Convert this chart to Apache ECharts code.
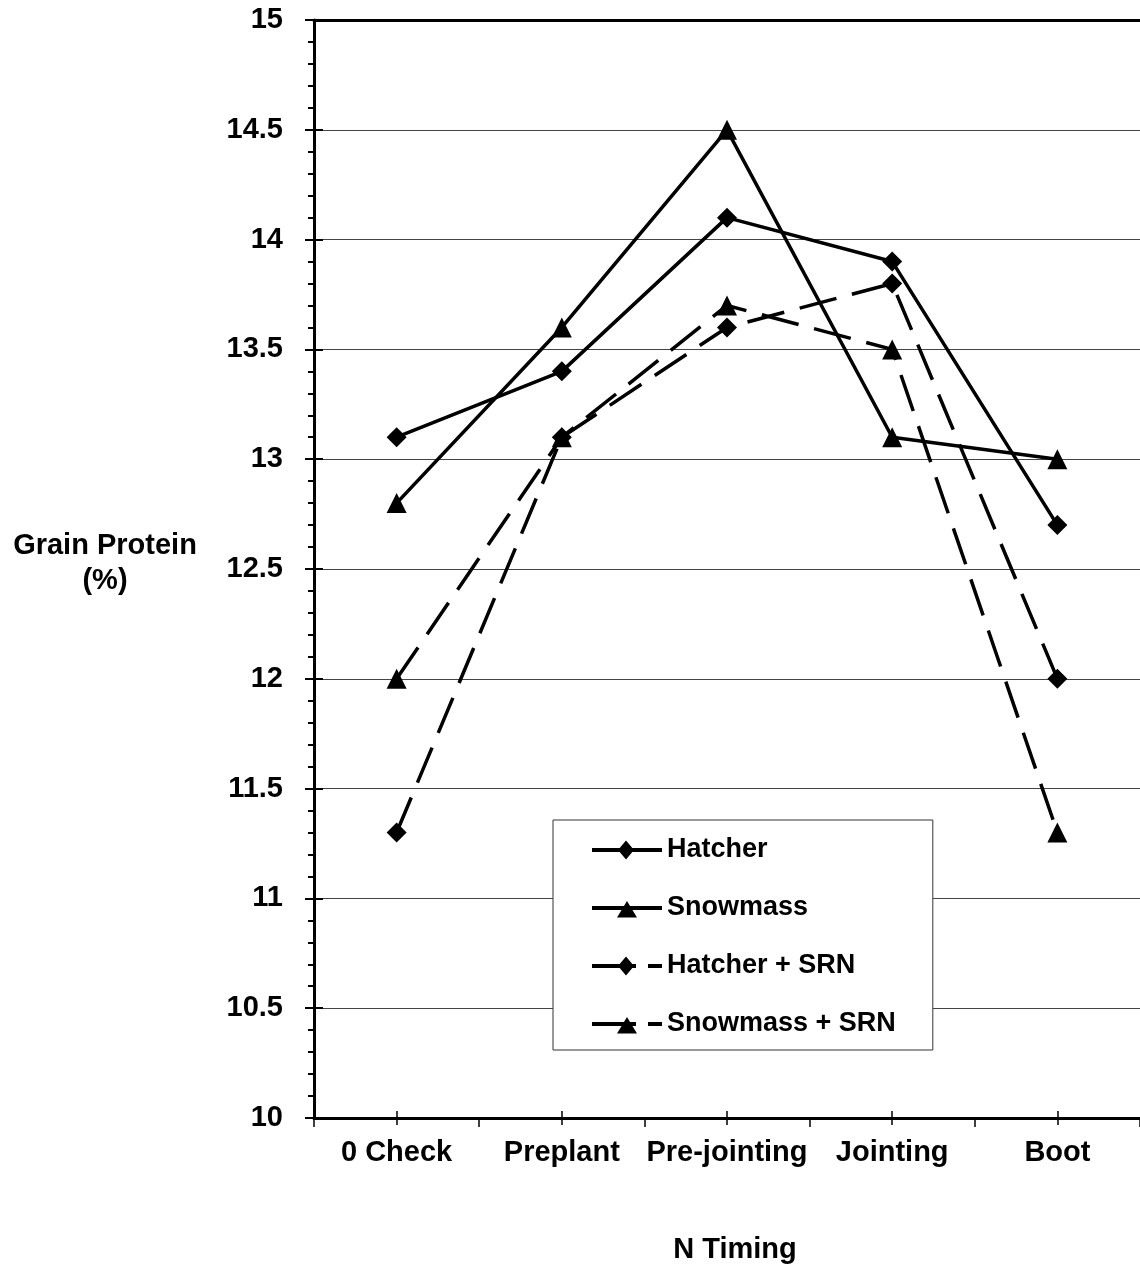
<!DOCTYPE html>
<html><head><meta charset="utf-8">
<script src="https://cdn.jsdelivr.net/npm/echarts@6/dist/echarts.min.js"></script>
<style>html,body{margin:0;padding:0;background:#fff}#c{width:1140px;height:1269px}</style>
</head><body><div id="c"></div>
<script>
const categories = ['0 Check', 'Preplant', 'Pre-jointing', 'Jointing', 'Boot'];
const hatcher = [13.1, 13.4, 14.1, 13.9, 12.7];
const snowmass = [12.8, 13.6, 14.5, 13.1, 13.0];
const hatcherSRN = [11.3, 13.1, 13.6, 13.8, 12.0];
const snowmassSRN = [12.0, 13.1, 13.7, 13.5, 11.3];
const seriesNames = ['Hatcher', 'Snowmass', 'Hatcher + SRN', 'Snowmass + SRN'];

const FONT = '"Liberation Sans", Arial, sans-serif';
const BOX = 'M0,0 h0.01 v0.01 h-0.01 Z M69.99,19.99 h0.01 v0.01 h-0.01 Z ';
const DIA = 'M34,0.5 L42,10 L34,19.5 L26,10 Z ';
const TRI = 'M35,3 L45,19.5 L25,19.5 Z ';
const FULL = 'M0,8 H70 V12 H0 Z ';
const DASH = 'M0,8 H44 V12 H0 Z M56,8 H70 V12 H56 Z ';
const icons = [
  'path://' + BOX + FULL + DIA,
  'path://' + BOX + FULL + TRI,
  'path://' + BOX + DASH + DIA,
  'path://' + BOX + DASH + TRI
];

const chart = echarts.init(document.getElementById('c'));
function mk(name, data, sym, size, dashed) {
  return {
    name, type: 'line', data, symbol: sym, symbolSize: size,
    lineStyle: { color: '#000', width: 3.5, type: dashed ? [38, 16] : 'solid' },
    itemStyle: { color: '#000' }, z: 3
  };
}
const hiddenAxisBase = {
  type: 'category', data: categories, position: 'bottom',
  axisLine: { show: false }, axisLabel: { show: false }, splitLine: { show: false }
};
chart.setOption({
  animation: false,
  backgroundColor: '#fff',
  grid: { left: 314, top: 20, width: 830, height: 1098, containLabel: false },
  graphic: [{
    type: 'text', x: 105, y: 563,
    style: { text: 'Grain Protein\n(%)', font: 'bold 29px ' + FONT, fill: '#000',
      align: 'center', verticalAlign: 'middle', lineHeight: 35 }
  }],
  legend: {
    orient: 'vertical', left: 553, top: 820,
    padding: [15, 37, 11, 39], itemGap: 28, itemWidth: 70, itemHeight: 20,
    borderColor: '#333', borderWidth: 1, backgroundColor: '#fff',
    itemStyle: { borderWidth: 0 },
    textStyle: { fontFamily: FONT, fontWeight: 'bold', fontSize: 27, color: '#000', lineHeight: 30 },
    data: seriesNames.map((n, i) => ({ name: n, icon: icons[i] }))
  },
  xAxis: [{
    type: 'category', data: categories, boundaryGap: true,
    axisLine: { lineStyle: { color: '#000', width: 3 } },
    axisTick: { show: true, length: 9, lineStyle: { color: '#000', width: 1.5 } },
    axisLabel: { margin: 20, fontFamily: FONT, fontWeight: 'bold', fontSize: 29, color: '#000', interval: 0 },
    name: 'N Timing', nameLocation: 'middle', nameGap: 117,
    nameTextStyle: { fontFamily: FONT, fontWeight: 'bold', fontSize: 29, color: '#000', padding: [0, 0, 0, 16] }
  }, {
    type: 'category', data: categories, position: 'top',
    axisLine: { lineStyle: { color: '#000', width: 3 } },
    axisTick: { show: false }, axisLabel: { show: false }
  }, Object.assign({}, hiddenAxisBase, {
    axisTick: { show: true, alignWithLabel: true, inside: true, length: 7, lineStyle: { color: '#000', width: 1.5 } }
  }), Object.assign({}, hiddenAxisBase, {
    axisTick: { show: true, alignWithLabel: true, inside: false, length: 7, lineStyle: { color: '#000', width: 1.5 } }
  })],
  yAxis: [{
    type: 'value', min: 10, max: 15, interval: 0.5,
    axisLine: { show: true, lineStyle: { color: '#000', width: 3 } },
    axisTick: { show: true, length: 9, lineStyle: { color: '#000', width: 2 } },
    minorTick: { show: true, splitNumber: 5, length: 6, lineStyle: { color: '#000', width: 2 } },
    splitLine: { show: true, lineStyle: { color: '#444', width: 1 } },
    axisLabel: { margin: 31, fontFamily: FONT, fontWeight: 'bold', fontSize: 29, color: '#000',
      formatter: v => String(Math.round(v * 10) / 10) }
  }, {
    type: 'value', min: 10, max: 15, interval: 0.5, position: 'left',
    axisLine: { show: false }, axisLabel: { show: false }, splitLine: { show: false },
    axisTick: { show: true, inside: true, length: 9, lineStyle: { color: '#000', width: 2 } }
  }],
  series: [
    mk(seriesNames[0], hatcher, 'diamond', 20, false),
    mk(seriesNames[1], snowmass, 'triangle', 20, false),
    mk(seriesNames[2], hatcherSRN, 'diamond', 20, true),
    mk(seriesNames[3], snowmassSRN, 'triangle', 20, true)
  ]
});
</script></body></html>
